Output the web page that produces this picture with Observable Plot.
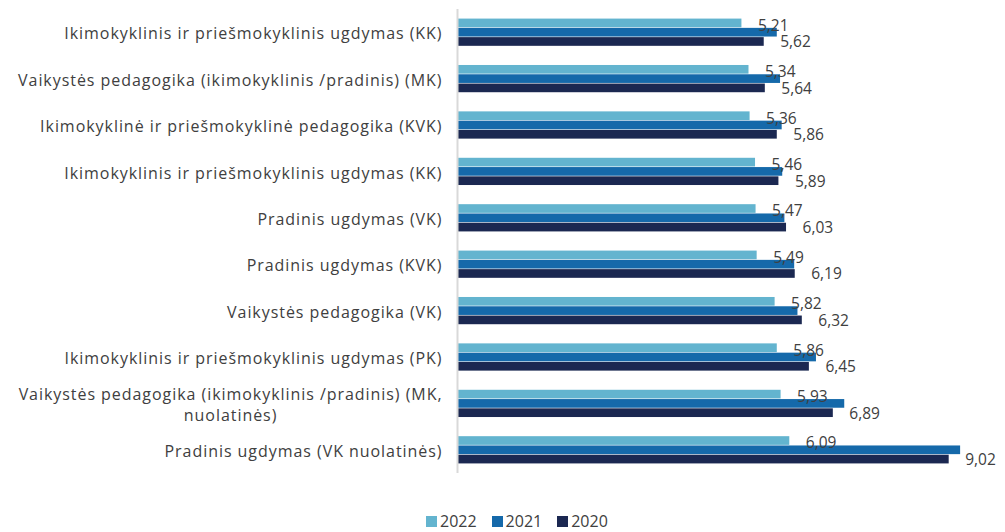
<!DOCTYPE html>
<html>
<head>
<meta charset="utf-8">
<script src="https://cdn.jsdelivr.net/npm/d3@7"></script>
<script src="https://cdn.jsdelivr.net/npm/@observablehq/plot@0.6"></script>
<style>
  body { margin: 0; background: #fff; font-family: "Open Sans", sans-serif; }
  #wrap { position: relative; width: 1005px; height: 532px; }
  #legend { position: absolute; left: 426px; top: 510px; display: flex; align-items: center; font-size: 16px; color: #404040; }
  #legend .item { display: flex; align-items: center; margin-right: 15px; }
  #legend .sw { width: 11px; height: 11px; margin-right: 3px; }
</style>
</head>
<body>
<div id="wrap"><div id="chart"></div><div id="legend"></div></div>
<script>
const categories = [
  "Ikimokyklinis ir priešmokyklinis ugdymas (KK)",
  "Vaikystės pedagogika (ikimokyklinis /pradinis) (MK)",
  "Ikimokyklinė ir priešmokyklinė pedagogika (KVK)",
  "Ikimokyklinis ir priešmokyklinis ugdymas (KK)",
  "Pradinis ugdymas (VK)",
  "Pradinis ugdymas (KVK)",
  "Vaikystės pedagogika (VK)",
  "Ikimokyklinis ir priešmokyklinis ugdymas (PK)",
  "Vaikystės pedagogika (ikimokyklinis /pradinis) (MK,\nnuolatinės)",
  "Pradinis ugdymas (VK nuolatinės)"
];
const years = ["2022", "2021", "2020"];
const v2022 = [5.21, 5.34, 5.36, 5.46, 5.47, 5.49, 5.82, 5.86, 5.93, 6.09];
const v2021 = [5.86, 5.92, 5.95, 5.96, 6.00, 6.18, 6.24, 6.58, 7.10, 9.23];
const v2020 = [5.62, 5.64, 5.86, 5.89, 6.03, 6.19, 6.32, 6.45, 6.89, 9.02];
const colors = ["#63b4cf", "#1569aa", "#1b2851"];

const series = {"2022": v2022, "2021": v2021, "2020": v2020};
const rows = [];
categories.forEach((c, i) => {
  years.forEach(y => rows.push({key: `${i}|${y}`, cat: c, year: y, value: series[y][i]}));
});
const domain = [];
categories.forEach((c, i) => {
  domain.push(`${i}|gapA`);
  years.forEach(y => domain.push(`${i}|${y}`));
  domain.push(`${i}|gapB`);
});
const catRows = categories.map((c, i) => ({key: `${i}|2021`, cat: c}));
const fmt = v => v.toFixed(2).replace(".", ",");

const plot = Plot.plot({
  width: 1005,
  height: 500,
  marginLeft: 458,
  marginRight: 3,
  marginTop: 9,
  marginBottom: 27,
  style: {fontFamily: "Open Sans, sans-serif", fontSize: "16px", color: "#404040", background: "#fff"},
  x: {domain: [0, 10], axis: null},
  y: {domain, padding: 0, round: false, axis: null},
  color: {domain: years, range: colors},
  marks: [
    Plot.barX(rows, {x: "value", y: "key", fill: "year", insetTop: 0.3, insetBottom: 0.3}),
    Plot.ruleX([0], {stroke: "#d9d9d9", strokeWidth: 2, dx: -1}),
    Plot.text(rows.filter(d => d.year === "2022"), {
      x: "value", y: "key", text: d => fmt(d.value), textAnchor: "start", dx: 16, dy: 2.5,
      fill: "#404040", fontSize: 15.5
    }),
    Plot.text(rows.filter(d => d.year === "2020"), {
      x: "value", y: "key", text: d => fmt(d.value), textAnchor: "start", dx: 16, dy: 0.5,
      fill: "#404040", fontSize: 15.5
    }),
    Plot.text(catRows, {
      x: () => 0, y: "key", text: "cat", textAnchor: "end", dx: -16, dy: 0,
      lineAnchor: "middle", lineHeight: 1.3, fill: "#404040", fontSize: 16
    })
  ]
});
document.getElementById("chart").appendChild(plot);

// wider tracking for category labels, then center wrapped second lines
plot.querySelectorAll("text").forEach(t => {
  const full = Array.from(t.querySelectorAll("tspan")).map(s => s.textContent).join("\n") || t.textContent;
  if (categories.includes(full)) t.style.letterSpacing = "0.95px";
  const ts = t.querySelectorAll("tspan");
  if (ts.length > 1) {
    const w1 = ts[0].getComputedTextLength();
    for (let k = 1; k < ts.length; k++) {
      const w = ts[k].getComputedTextLength();
      ts[k].setAttribute("x", -(w1 - w) / 2);
    }
  }
});

const legend = document.getElementById("legend");
years.forEach((y, i) => {
  const it = document.createElement("div");
  it.className = "item";
  const sw = document.createElement("div");
  sw.className = "sw";
  sw.style.background = colors[i];
  const tx = document.createElement("span");
  tx.textContent = y;
  it.appendChild(sw); it.appendChild(tx);
  legend.appendChild(it);
});
</script>
</body>
</html>
